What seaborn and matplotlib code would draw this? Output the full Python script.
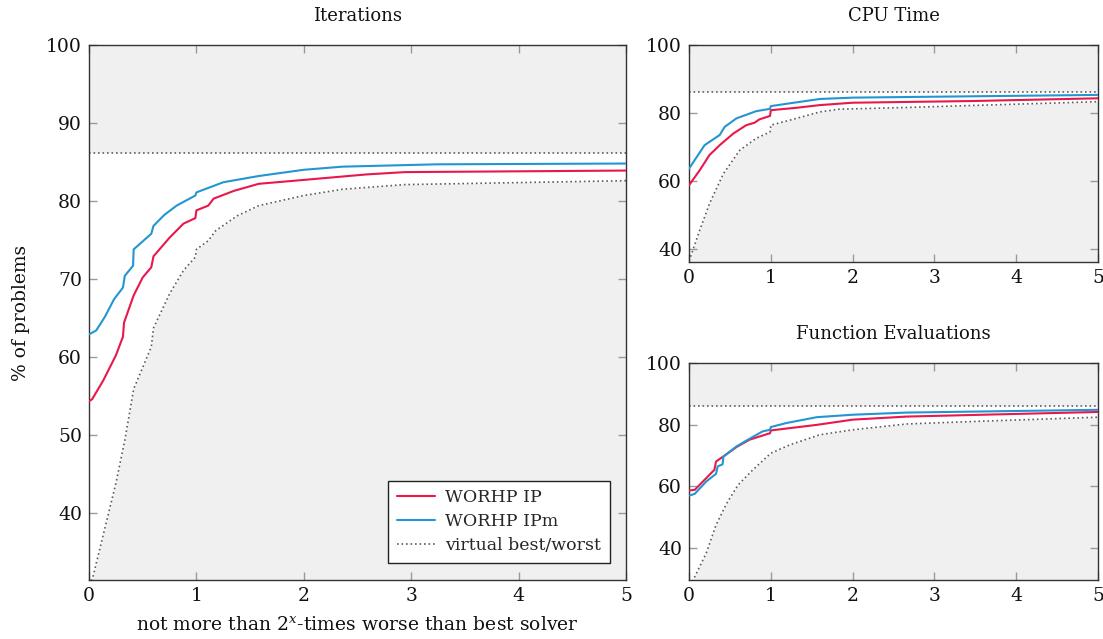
import numpy as np
import pandas as pd
import matplotlib
matplotlib.use("Agg")
import matplotlib.pyplot as plt
import seaborn as sns

sns.set_style("ticks")
plt.rcParams["font.family"] = ["DejaVu Serif"]
plt.rcParams["mathtext.fontset"] = "dejavuserif"

# ---------------- data ----------------
titles = ["Iterations", "CPU Time", "Function Evaluations"]
series_labels = ["WORHP IP", "WORHP IPm", "virtual best/worst"]
x_ticks = [0, 1, 2, 3, 4, 5]
best_level = [86.1, 86.1, 86.1]

# Iterations
it_ip_x = [0.0, 0.03, 0.133, 0.25, 0.316, 0.326, 0.416, 0.5, 0.58, 0.6, 0.75, 0.88, 0.99, 1.0, 1.11, 1.16,
           1.35, 1.58, 2.0, 2.58, 2.94, 5.0]
it_ip_y = [54.3, 54.6, 57.0, 60.2, 62.6, 64.4, 67.9, 70.2, 71.5, 72.9, 75.3, 77.1, 77.8, 78.8, 79.4, 80.3,
           81.3, 82.2, 82.7, 83.4, 83.7, 83.9]
it_ipm_x = [0.0, 0.067, 0.15, 0.233, 0.316, 0.333, 0.41, 0.416, 0.58, 0.6, 0.7, 0.815, 0.99, 1.0, 1.25, 1.58,
            2.0, 2.36, 3.24, 5.0]
it_ipm_y = [62.9, 63.4, 65.2, 67.4, 68.9, 70.4, 71.7, 73.8, 75.8, 76.8, 78.2, 79.4, 80.7, 81.1, 82.4, 83.2,
            84.0, 84.4, 84.7, 84.8]
it_w_x = [0.0, 0.033, 0.25, 0.333, 0.416, 0.58, 0.6, 0.75, 0.88, 0.99, 1.0, 1.11, 1.18, 1.38, 1.58, 2.0,
          2.36, 2.94, 5.0]
it_w_y = [30.8, 31.6, 43.8, 49.3, 55.9, 61.3, 63.7, 68.1, 71.1, 72.8, 73.8, 74.9, 76.2, 78.1, 79.4, 80.7,
          81.5, 82.1, 82.6]

# CPU Time
cpu_ip_x = [0.0, 0.13, 0.25, 0.375, 0.54, 0.70, 0.80, 0.86, 0.99, 1.0, 1.31, 1.6, 2.0, 3.47, 5.0]
cpu_ip_y = [58.7, 63.1, 67.6, 70.5, 73.9, 76.4, 77.1, 78.1, 79.1, 80.8, 81.5, 82.3, 83.0, 83.5, 84.3]
cpu_ipm_x = [0.0, 0.19, 0.375, 0.436, 0.58, 0.82, 0.99, 1.0, 1.31, 1.6, 2.0, 5.0]
cpu_ipm_y = [63.6, 70.5, 73.5, 75.9, 78.4, 80.5, 81.2, 82.0, 83.1, 84.1, 84.5, 85.3]
cpu_w_x = [0.0, 0.13, 0.25, 0.42, 0.62, 0.82, 0.99, 1.0, 1.27, 1.6, 1.84, 2.66, 5.0]
cpu_w_y = [36.4, 45.4, 53.3, 62.1, 69.0, 72.5, 74.4, 76.4, 78.1, 80.3, 81.1, 81.6, 83.3]

# Function Evaluations
fe_ip_x = [0.0, 0.07, 0.21, 0.31, 0.33, 0.46, 0.58, 0.74, 0.99, 1.0, 1.56, 2.0, 2.66, 5.0]
fe_ip_y = [58.6, 58.8, 62.6, 65.3, 68.0, 70.4, 72.7, 75.1, 77.2, 78.1, 79.9, 81.6, 82.6, 84.1]
fe_ipm_x = [0.0, 0.07, 0.21, 0.33, 0.35, 0.41, 0.42, 0.58, 0.74, 0.9, 0.99, 1.0, 1.19, 1.56, 2.0, 2.66, 5.0]
fe_ipm_y = [56.9, 57.5, 61.5, 64.0, 66.4, 67.1, 69.6, 72.9, 75.4, 77.8, 78.3, 79.2, 80.5, 82.4, 83.2, 83.9, 84.8]
fe_w_x = [0.0, 0.05, 0.21, 0.33, 0.46, 0.6, 0.78, 1.0, 1.23, 1.6, 2.0, 2.66, 3.47, 5.0]
fe_w_y = [28.0, 29.5, 38.2, 47.4, 54.4, 60.4, 65.3, 70.7, 73.4, 76.7, 78.3, 80.2, 81.0, 82.4]

ylims = [(31.4, 100), (36.1, 100), (29.5, 100)]
yticks = [[40, 50, 60, 70, 80, 90, 100], [40, 60, 80, 100], [40, 60, 80, 100]]

RED = "#e8184b"
BLUE = "#2396d2"
GRAY = "#5e5e5e"
FILL = "#f0f0f0"

fig = plt.figure(figsize=(11.03, 6.39), dpi=100)
ax_it = fig.add_axes([0.0807, 0.0923, 0.4869, 0.8373])
ax_cpu = fig.add_axes([0.6247, 0.590, 0.3708, 0.3396])
ax_fe = fig.add_axes([0.6247, 0.0923, 0.3708, 0.3396])

panels = [
    (ax_it, it_ip_x, it_ip_y, it_ipm_x, it_ipm_y, it_w_x, it_w_y),
    (ax_cpu, cpu_ip_x, cpu_ip_y, cpu_ipm_x, cpu_ipm_y, cpu_w_x, cpu_w_y),
    (ax_fe, fe_ip_x, fe_ip_y, fe_ipm_x, fe_ipm_y, fe_w_x, fe_w_y),
]

for i, (ax, ipx, ipy, ipmx, ipmy, wx, wy) in enumerate(panels):
    ylo, yhi = ylims[i]
    ax.set_facecolor("white")
    ax.fill_between(wx, ylo - 5, wy, color=FILL, lw=0, zorder=0)
    ax.fill_between([0, 5], [best_level[i]] * 2, [yhi + 5] * 2, color=FILL, lw=0, zorder=0)
    sns.lineplot(x=[0, 5], y=[best_level[i]] * 2, ax=ax, color=GRAY, lw=1.2,
                 linestyle=(0, (1, 1.7)), estimator=None, sort=False, zorder=2)
    sns.lineplot(x=wx, y=wy, ax=ax, color=GRAY, lw=1.2, linestyle=(0, (1, 1.7)),
                 estimator=None, sort=False, zorder=2, label=series_labels[2])
    sns.lineplot(x=ipx, y=ipy, ax=ax, color=RED, lw=1.5, estimator=None, sort=False,
                 zorder=3, label=series_labels[0])
    sns.lineplot(x=ipmx, y=ipmy, ax=ax, color=BLUE, lw=1.5, estimator=None, sort=False,
                 zorder=4, label=series_labels[1])
    ax.set_xlim(0, 5)
    ax.set_ylim(ylo, yhi)
    ax.set_xticks(x_ticks)
    ax.set_yticks(yticks[i])
    ax.set_xlabel("")
    ax.set_ylabel("")
    ax.tick_params(direction="in", length=6, width=1, color="#9a9a9a", top=True, right=True,
                   labelsize=13.5, pad=5, labelcolor="#111111")
    for s in ax.spines.values():
        s.set_visible(True)
        s.set_color("#333333")
        s.set_linewidth(1.0)
    ax.set_title(titles[i], fontsize=13, pad=17, color="#111111")
    leg = ax.get_legend()
    if leg is not None:
        leg.remove()

h, l = ax_it.get_legend_handles_labels()
order = [l.index(series_labels[0]), l.index(series_labels[1]), l.index(series_labels[2])]
leg = ax_it.legend([h[k] for k in order], [l[k] for k in order], loc="lower right",
                   bbox_to_anchor=(0.97, 0.032), borderaxespad=0, fontsize=12.5,
                   frameon=True, fancybox=False, framealpha=1, edgecolor="#222222",
                   handlelength=2.2, handletextpad=0.6, borderpad=0.5, labelspacing=0.4)
leg.get_frame().set_linewidth(1.0)

ax_it.set_xlabel("not more than $2^x$-times worse than best solver", fontsize=13.5, labelpad=8,
                 color="#111111")
ax_it.set_ylabel("% of problems", fontsize=13.5, labelpad=12, color="#111111")

fig.savefig("out.png", dpi=100)
